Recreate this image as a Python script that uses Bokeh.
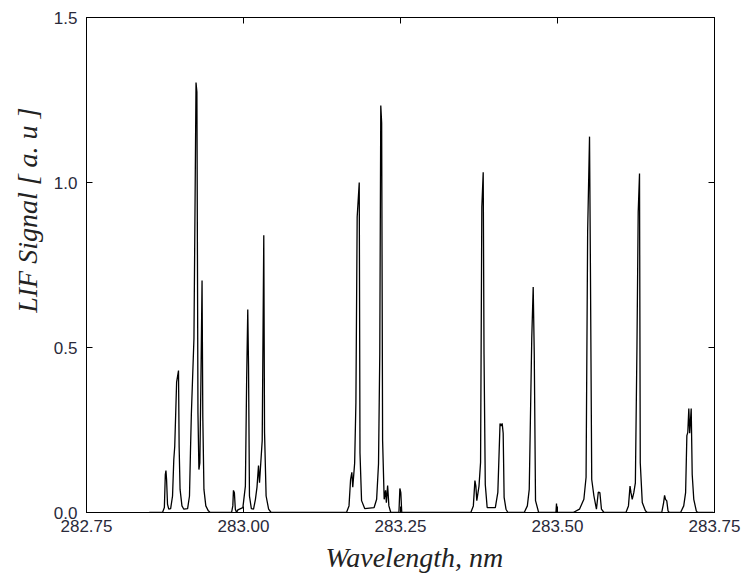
from bokeh.plotting import figure
from bokeh.models import (ColumnDataSource, FixedTicker, LinearAxis, Title,
                          NumeralTickFormatter)
from bokeh.embed import file_html
from bokeh.resources import INLINE

# ---- data ----
x_ticks = [282.75, 283.00, 283.25, 283.50, 283.75]
y_ticks = [0.0, 0.5, 1.0, 1.5]

wavelength_nm = [
    282.8500, 282.8710, 282.8740, 282.8755, 282.8765, 282.8775, 282.8790, 282.8810,
    282.8840, 282.8870, 282.8890, 282.8905, 282.8935, 282.8965, 282.8975, 282.8990,
    282.9020, 282.9050, 282.9110, 282.9140, 282.9155, 282.9170, 282.9211, 282.9244,
    282.9258, 282.9275, 282.9290, 282.9305, 282.9322, 282.9340, 282.9352, 282.9370,
    282.9400, 282.9440, 282.9470,
    282.9810, 282.9830, 282.9840, 282.9855, 282.9870, 282.9890, 282.9910, 282.9990,
    283.0030, 283.0050, 283.0068, 283.0080, 283.0095, 283.0125, 283.0160, 283.0190,
    283.0215, 283.0239, 283.0255, 283.0298, 283.0323, 283.0335, 283.0360, 283.0400,
    283.0440,
    283.1640, 283.1680, 283.1705, 283.1725, 283.1740, 283.1770, 283.1790, 283.1810,
    283.1843, 283.1855, 283.1880, 283.1930, 283.2080, 283.2120, 283.2150, 283.2170,
    283.2186, 283.2200, 283.2215, 283.2240, 283.2262, 283.2275, 283.2295, 283.2315,
    283.2345, 283.2475, 283.2490, 283.2505, 283.2520,
    283.3620, 283.3660, 283.3685, 283.3700, 283.3715, 283.3750, 283.3775, 283.3795,
    283.3817, 283.3830, 283.3850, 283.3880, 283.4010, 283.4050, 283.4085, 283.4100,
    283.4119, 283.4135, 283.4150, 283.4180, 283.4210, 283.4470, 283.4520, 283.4550,
    283.4590, 283.4613, 283.4630, 283.4650, 283.4700, 283.4975, 283.4984, 283.4993,
    283.5250, 283.5350, 283.5420, 283.5455, 283.5480, 283.5510, 283.5525, 283.5545,
    283.5580, 283.5620, 283.5650, 283.5675, 283.5700, 283.5740,
    283.6090, 283.6130, 283.6155, 283.6170, 283.6190, 283.6215, 283.6240, 283.6265,
    283.6285, 283.6306, 283.6318, 283.6350, 283.6400, 283.6430,
    283.6660, 283.6690, 283.6705, 283.6720, 283.6740, 283.6760, 283.6780,
    283.6960, 283.7010, 283.7040, 283.7060, 283.7075, 283.7091, 283.7105, 283.7129,
    283.7145, 283.7170, 283.7210, 283.7230, 283.7480,
]

lif_signal = [
    0.000, 0.000, 0.015, 0.115, 0.127, 0.100, 0.025, 0.010,
    0.012, 0.050, 0.160, 0.200, 0.395, 0.430, 0.200, 0.070,
    0.020, 0.010, 0.012, 0.050, 0.180, 0.300, 0.527, 1.303,
    1.274, 0.300, 0.130, 0.150, 0.400, 0.703, 0.290, 0.070,
    0.020, 0.005, 0.000,
    0.000, 0.020, 0.067, 0.060, 0.010, 0.000, 0.008, 0.015,
    0.080, 0.400, 0.615, 0.445, 0.050, 0.012, 0.010, 0.040,
    0.077, 0.142, 0.090, 0.218, 0.840, 0.243, 0.050, 0.010,
    0.000,
    0.000, 0.020, 0.100, 0.122, 0.077, 0.150, 0.334, 0.895,
    1.000, 0.180, 0.036, 0.012, 0.015, 0.040, 0.148, 0.480,
    1.233, 1.180, 0.218, 0.040, 0.067, 0.030, 0.082, 0.020,
    0.000, 0.000, 0.073, 0.060, 0.000,
    0.000, 0.020, 0.097, 0.080, 0.036, 0.080, 0.152, 0.925,
    1.031, 0.480, 0.085, 0.015, 0.015, 0.061, 0.270, 0.262,
    0.270, 0.240, 0.046, 0.010, 0.000, 0.000, 0.020, 0.070,
    0.527, 0.683, 0.480, 0.036, 0.000, 0.000, 0.027, 0.000,
    0.000, 0.010, 0.040, 0.107, 0.850, 1.139, 0.720, 0.100,
    0.050, 0.010, 0.062, 0.060, 0.010, 0.000,
    0.000, 0.020, 0.080, 0.060, 0.040, 0.060, 0.090, 0.497,
    0.910, 1.027, 0.150, 0.030, 0.005, 0.000,
    0.000, 0.030, 0.052, 0.040, 0.035, 0.005, 0.000,
    0.000, 0.020, 0.060, 0.233, 0.243, 0.315, 0.240, 0.315,
    0.115, 0.040, 0.005, 0.000, 0.000,
]

x_label = "Wavelength, nm"
y_label = "LIF Signal [ a. u ]"

# ---- figure ----
p = figure(width=745, height=578, x_range=(282.75, 283.75), y_range=(0, 1.5),
           output_backend="svg", toolbar_location=None,
           min_border_left=86, min_border_right=31, min_border_top=17,
           min_border_bottom=66)
p.background_fill_color = "white"
p.border_fill_color = "white"
p.outline_line_color = "black"
p.outline_line_width = 1
p.xgrid.visible = False
p.ygrid.visible = False

src = ColumnDataSource(dict(wl=wavelength_nm, sig=lif_signal))
p.line("wl", "sig", source=src, line_color="black", line_width=1.3)

label_color = "#2a2a3a"

def style_axis(ax, ticks, fmt, show_labels, standoff):
    ax.ticker = FixedTicker(ticks=ticks)
    ax.formatter = NumeralTickFormatter(format=fmt)
    ax.major_tick_in = 6
    ax.major_tick_out = 0
    ax.minor_tick_line_color = None
    ax.axis_line_color = "black"
    ax.major_tick_line_color = "black"
    ax.major_label_standoff = standoff
    if show_labels:
        ax.major_label_text_font = "Liberation Sans"
        ax.major_label_text_font_size = "17px"
        ax.major_label_text_color = label_color
    else:
        ax.major_label_text_font_size = "0px"
        ax.major_label_text_alpha = 0

style_axis(p.xaxis[0], x_ticks, "0.00", True, 7)
style_axis(p.yaxis[0], y_ticks, "0.0", True, 9)

top_ax = LinearAxis()
right_ax = LinearAxis()
style_axis(top_ax, x_ticks, "0.00", False, 0)
style_axis(right_ax, y_ticks, "0.0", False, 0)
p.add_layout(top_ax, "above")
p.add_layout(right_ax, "right")

x_title = Title(text=x_label, align="left", offset=239, standoff=10,
                text_font="Liberation Serif", text_font_style="italic",
                text_font_size="28px", text_color="#222222")
y_title = Title(text=y_label, align="right", offset=90, standoff=15,
                text_font="Liberation Serif", text_font_style="italic",
                text_font_size="28px", text_color="#222222")
p.add_layout(x_title, "below")
p.add_layout(y_title, "left")

open("out.html", "w").write(file_html(p, INLINE))
